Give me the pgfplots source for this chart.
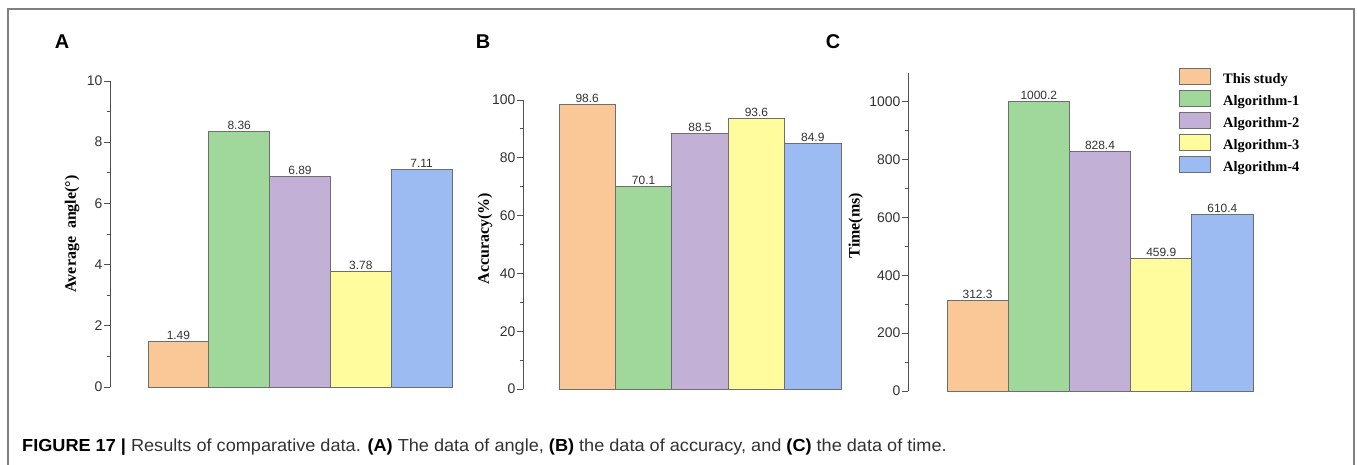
\documentclass[border=0pt]{standalone}
\usepackage{fontspec}
\setmainfont{Liberation Sans}
\newfontfamily\serifb{Liberation Serif}
\newfontfamily\capfont[FakeStretch=1.04]{Liberation Sans}
\usepackage{pgfplots}
\pgfplotsset{compat=1.18}
\definecolor{cOr}{RGB}{249,200,150}
\definecolor{cGr}{RGB}{160,216,155}
\definecolor{cPu}{RGB}{194,176,214}
\definecolor{cYe}{RGB}{255,252,158}
\definecolor{cBl}{RGB}{156,187,242}
\definecolor{axgray}{RGB}{80,80,80}
\definecolor{txtgray}{RGB}{50,50,50}
\definecolor{edgegray}{RGB}{110,110,110}
\pgfplotsset{
  bstyle/.style={
    scale only axis, anchor=south west,
    axis x line=none, axis y line*=left,
    ymin=0, xmax=4.5,
    ytick align=outside, major tick length=6bp, minor tick length=3.5bp,
    minor y tick num=1,
    every tick/.style={color=axgray, line width=0.9bp},
    axis line style={color=axgray, line width=0.9bp},
    yticklabel style={font=\fontsize{14}{14}\selectfont, color=txtgray, inner sep=1.5bp},
    /pgf/number format/assume math mode=true,
    /pgf/number format/1000 sep={},
    ylabel style={font=\serifb\bfseries\fontsize{16}{16}\selectfont, anchor=center, color=black},
    ybar, bar width=1,
    nodes near coords, point meta=explicit symbolic,
    nodes near coords style={font=\fontsize{12}{12}\selectfont, color=txtgray, inner sep=1.5bp},
    clip=false,
    every axis plot/.append style={draw=edgegray, line width=0.8bp, bar shift=0pt},
  }
}
\begin{document}
\begin{tikzpicture}
\useasboundingbox (0,0) rectangle (1357bp,465bp);
\draw[color=gray, line width=1.5bp] (8bp,0bp) -- (8bp,456bp) -- (1354bp,456bp) -- (1354bp,0bp);
\node[font=\bfseries\fontsize{20}{20}\selectfont] at (62bp,423bp) {A};
\node[font=\bfseries\fontsize{20}{20}\selectfont] at (483bp,423bp) {B};
\node[font=\bfseries\fontsize{20}{20}\selectfont] at (833bp,423bp) {C};

% Panel A
\begin{axis}[bstyle, at={(110bp,78bp)}, width=342bp, height=306bp,
  xmin=-1.125, ymax=10, ytick={0,2,4,6,8,10},
  ylabel={Average~~angle(°)},
  ylabel style={at={(axis description cs:-0.111,0.5)}}]
\addplot[fill=cOr] coordinates {(0,1.49)[1.49]};
\addplot[fill=cGr] coordinates {(1,8.36)[8.36]};
\addplot[fill=cPu] coordinates {(2,6.89)[6.89]};
\addplot[fill=cYe] coordinates {(3,3.78)[3.78]};
\addplot[fill=cBl] coordinates {(4,7.11)[7.11]};
\end{axis}

% Panel B
\begin{axis}[bstyle, at={(523bp,76bp)}, width=318bp, height=289bp,
  xmin=-1.138, ymax=100, ytick={0,20,40,60,80,100},
  ylabel={Accuracy(\%)},
  ylabel style={at={(axis description cs:-0.119,0.52)}}]
\addplot[fill=cOr] coordinates {(0,98.6)[98.6]};
\addplot[fill=cGr] coordinates {(1,70.1)[70.1]};
\addplot[fill=cPu] coordinates {(2,88.5)[88.5]};
\addplot[fill=cYe] coordinates {(3,93.6)[93.6]};
\addplot[fill=cBl] coordinates {(4,84.9)[84.9]};
\end{axis}

% Panel C
\begin{axis}[bstyle, at={(908bp,74bp)}, width=345bp, height=318bp,
  xmin=-1.137, ymax=1100, ytick={0,200,400,600,800,1000},
  ylabel={Time(ms)},
  ylabel style={at={(axis description cs:-0.151,0.52)}},
  legend cell align=left,
  legend style={at={(axis description cs:0.786,1.016)}, anchor=north west,
    draw=none, fill=none, inner sep=0pt, row sep=2bp,
    font=\serifb\bfseries\fontsize{14.5}{14.5}\selectfont,
    nodes={inner sep=0pt, text height=11.5bp, text depth=4.5bp}},
  legend image code/.code={\draw[#1, draw=edgegray, line width=0.8bp] (0bp,-4.5bp) rectangle (31bp,11.5bp);},
  legend style={column sep=12bp}]
\addplot[fill=cOr] coordinates {(0,312.3)[312.3]};
\addplot[fill=cGr] coordinates {(1,1000.2)[1000.2]};
\addplot[fill=cPu] coordinates {(2,828.4)[828.4]};
\addplot[fill=cYe] coordinates {(3,459.9)[459.9]};
\addplot[fill=cBl] coordinates {(4,610.4)[610.4]};
\legend{This study,Algorithm-1,Algorithm-2,Algorithm-3,Algorithm-4}
\end{axis}

\node[anchor=base west, font=\capfont\fontsize{17.5}{17.5}\selectfont, inner sep=0pt, text=txtgray] at (22bp,14bp)
  {\textbf{\color{black}FIGURE 17 |} Results of comparative data. \textbf{\color{black}(A)} The data of angle, \textbf{\color{black}(B)} the data of accuracy, and \textbf{\color{black}(C)} the data of time.};
\end{tikzpicture}
\end{document}
